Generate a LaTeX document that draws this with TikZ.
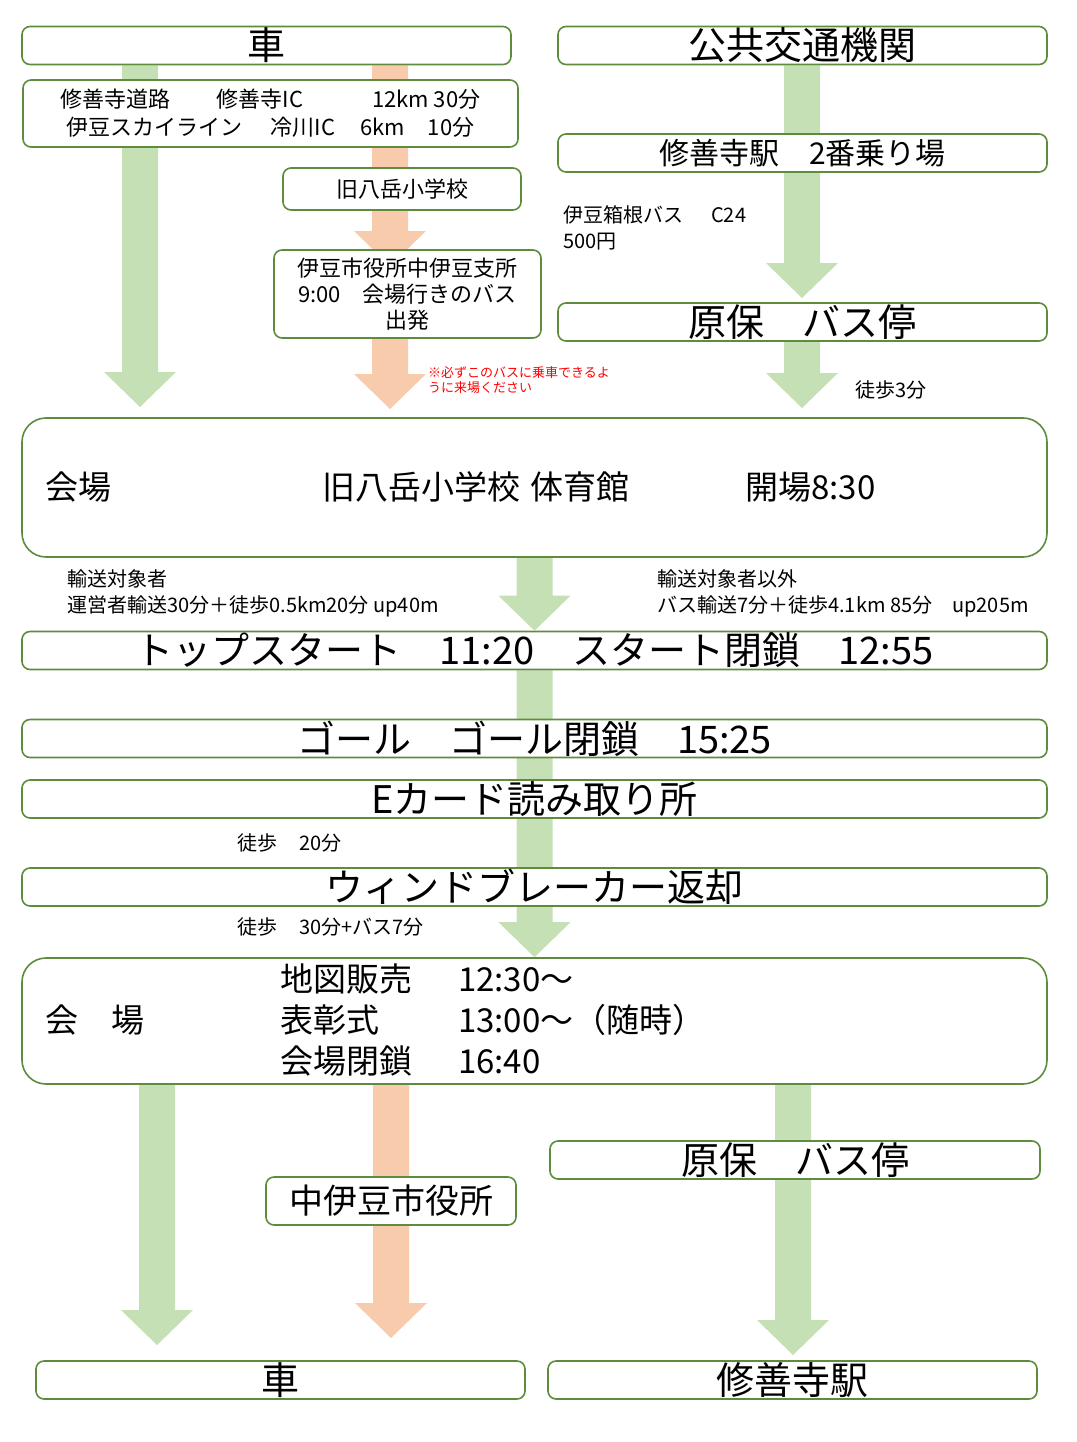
\documentclass[tikz,border=0pt]{standalone}
\usepackage{fontspec}
\setmainfont{Noto Sans CJK JP}
\usetikzlibrary{calc,backgrounds}

\definecolor{boxgreen}{HTML}{5E8C3C}
\definecolor{arrowgreen}{HTML}{C5E0B4}
\definecolor{arroworange}{HTML}{F8CBAD}

% block arrow: colour, start, tip
\newcommand\bigarrow[3]{%
  \fill[#1] let \p1=(#2), \p2=(#3) in
    (\x1-18pt,\y1) -- (\x1+18pt,\y1) -- (\x1+18pt,\y2+35pt) -- (\x1+36pt,\y2+35pt)
    -- (\x2,\y2) -- (\x1-36pt,\y2+35pt) -- (\x1-18pt,\y2+35pt) -- cycle;}

\tikzset{
  box/.style={draw=boxgreen, line width=1.6pt, fill=white, rounded corners=8pt,
    inner sep=0pt, minimum height=38pt},
  bigbox/.style={box, rounded corners=24pt},
  big/.style={font=\fontsize{38}{40}\selectfont},
  mid/.style={font=\fontsize{22}{27}\selectfont},
  vfont/.style={font=\fontsize{33}{41}\selectfont, inner sep=0pt, anchor=west},
  note/.style={font=\fontsize{20}{26}\selectfont, inner sep=0pt, anchor=west, align=left},
}

\begin{document}
\begin{tikzpicture}[x=1pt, y=-1pt]
  \useasboundingbox (0,0) rectangle (1076,1442);

  % Top row
  \node[box, big, minimum width=489pt] (carT) at (266.5,45.5) {車};
  \node[box, big, minimum width=489pt] (pubT) at (802.5,45.5) {公共交通機関};

  % Car route
  \node[box, mid, minimum width=495pt, minimum height=67pt, align=center,
    font=\fontsize{22}{28}\selectfont] (route) at (270.5,113.5)
    {修善寺道路\hspace{46pt}修善寺IC\hspace{69pt}12km 30分\\
     伊豆スカイライン\hspace{28pt}冷川IC\hspace{25pt}6km\hspace{23pt}10分};
  \node[box, mid, minimum width=238pt, minimum height=42pt] (school) at (402,189) {旧八岳小学校};
  \node[box, mid, minimum width=267pt, minimum height=88pt, align=center,
    font=\fontsize{22}{26}\selectfont] (shisho) at (407.5,294)
    {伊豆市役所中伊豆支所\\9:00　会場行きのバス\\出発};
  \node[note, font=\fontsize{13}{15}\selectfont, text=red] (warn) at (428,380)
    {※必ずこのバスに乗車できるよ\\うに来場ください};

  % Public transport route
  \node[box, big, minimum width=489pt, font=\fontsize{30}{34}\selectfont] (eki2) at (802.5,153) {修善寺駅　2番乗り場};
  \node[note] (izbus) at (563,228) {伊豆箱根バス\hspace{28pt}C24\\500円};
  \node[box, big, minimum width=489pt] (hara) at (802.5,322) {原保　バス停};
  \node[note] (walk3) at (855,390) {徒歩3分};

  % Venue
  \node[bigbox, minimum width=1025pt, minimum height=139pt] (venue) at (534.5,487.5) {};
  \node[vfont] (venueA) at (45,487) {会場};
  \node[vfont] (venueB) at (322,487) {旧八岳小学校\hspace{10pt}体育館};
  \node[vfont] (venueC) at (745,487) {開場8:30};

  \node[note] (transA) at (67,593) {輸送対象者\\運営者輸送30分＋徒歩0.5km20分 up40m};
  \node[note] (transB) at (657,593) {輸送対象者以外\\バス輸送7分＋徒歩4.1km 85分　up205m};

  % Race
  \node[box, big, minimum width=1025pt] (topstart) at (534.5,650.5)
    {トップスタート　11:20　スタート閉鎖　12:55};
  \node[box, big, minimum width=1025pt] (goal) at (534.5,738.5) {ゴール　ゴール閉鎖　15:25};
  \node[box, big, minimum width=1025pt] (ecard) at (534.5,799) {Eカード読み取り所};
  \node[note] (walk20) at (237,843) {徒歩\hspace{22pt}20分};
  \node[box, big, minimum width=1025pt] (wind) at (534.5,887) {ウィンドブレーカー返却};
  \node[note] (walk30) at (237,927) {徒歩\hspace{22pt}30分+バス7分};

  % Finish venue
  \node[bigbox, minimum width=1025pt, minimum height=126pt] (fin) at (534.5,1021) {};
  \node[vfont] (finA) at (45,1020) {会　場};
  \node[vfont] (finB) at (280,1024)
    {\begin{tabular}{@{}l@{\hspace{46pt}}l@{}}
      地図販売 & 12:30～\\
      表彰式 & 13:00～（随時）\\
      会場閉鎖 & 16:40
    \end{tabular}};

  % Way home
  \node[box, big, minimum width=490pt] (haraB) at (795,1160) {原保　バス停};
  \node[box, minimum width=250pt, minimum height=48pt, font=\fontsize{34}{38}\selectfont] (city) at (391,1201) {中伊豆市役所};
  \node[box, big, minimum width=489pt] (carB) at (280.5,1380) {車};
  \node[box, big, minimum width=489pt] (ekiB) at (792.5,1380) {修善寺駅};

  % Arrow tips
  \coordinate (tipL1) at (140,407);
  \coordinate (tipO1) at (390,266);
  \coordinate (tipO2) at (390,409);
  \coordinate (tipR1) at (802,298);
  \coordinate (tipR2) at (802,408);
  \coordinate (tipL2) at (157,1345);
  \coordinate (tipO3) at (391,1338);
  \coordinate (tipR3) at (793,1355);

  \begin{scope}[on background layer]
    \bigarrow{arrowgreen}{carT.south -| tipL1}{tipL1}
    \bigarrow{arroworange}{carT.south -| tipO1}{tipO1}
    \bigarrow{arroworange}{shisho.south -| tipO2}{tipO2}
    \bigarrow{arrowgreen}{pubT.south -| tipR1}{tipR1}
    \bigarrow{arrowgreen}{hara.south -| tipR2}{tipR2}
    \bigarrow{arrowgreen}{venue.south}{topstart.north}
    \bigarrow{arrowgreen}{topstart.south}{fin.north}
    \bigarrow{arrowgreen}{fin.south -| tipL2}{tipL2}
    \bigarrow{arroworange}{fin.south -| tipO3}{tipO3}
    \bigarrow{arrowgreen}{fin.south -| tipR3}{tipR3}
  \end{scope}
\end{tikzpicture}
\end{document}
